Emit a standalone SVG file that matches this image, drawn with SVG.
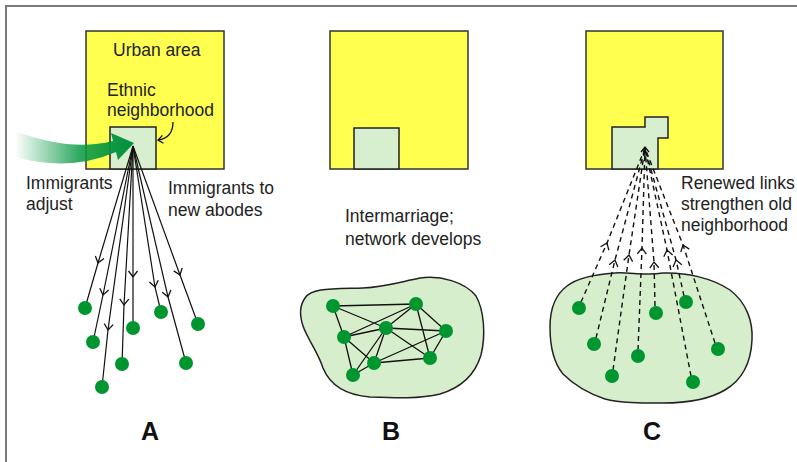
<svg xmlns="http://www.w3.org/2000/svg" width="797" height="462" viewBox="0 0 797 462">
<style>
  .frame{fill:none;stroke:#7a7a7a;stroke-width:2}
  .urban{fill:#ffff50;stroke:#333;stroke-width:1.5}
  .hood{fill:#d7eecf;stroke:#222;stroke-width:1.5}
  .blob{fill:#d6eecb;stroke:#222;stroke-width:1.5}
  .dot{fill:#00962f}
  .lbl{font-family:"Liberation Sans",Arial,sans-serif;font-size:17.5px;fill:#222}
  .big{font-family:"Liberation Sans",Arial,sans-serif;font-size:25px;font-weight:bold;fill:#111;text-anchor:middle}
  .fan{fill:none;stroke:#111;stroke-width:1.2;marker-mid:url(#chev)}
  .net{fill:none;stroke:#111;stroke-width:1.3}
  .dash{fill:none;stroke:#111;stroke-width:1.4;stroke-dasharray:5 4;marker-mid:url(#chev)}
</style>
<defs>
  <linearGradient id="gArrow" x1="15" y1="0" x2="132" y2="0" gradientUnits="userSpaceOnUse">
    <stop offset="0" stop-color="#0a9a45" stop-opacity="0"/>
    <stop offset="0.55" stop-color="#0a9a45" stop-opacity="0.85"/>
    <stop offset="1" stop-color="#009038"/>
  </linearGradient>
  <marker id="chev" markerUnits="userSpaceOnUse" markerWidth="12" markerHeight="12" refX="0" refY="0" orient="auto" overflow="visible">
    <path d="M -6 -4.5 L 0 0 L -6 4.5" fill="none" stroke="#111" stroke-width="1.3"/>
  </marker>
  <marker id="tip" markerUnits="userSpaceOnUse" markerWidth="10" markerHeight="10" refX="0" refY="0" orient="auto" overflow="visible">
    <path d="M -5 -4 L 0 0 L -5 4" fill="none" stroke="#111" stroke-width="1.3"/>
  </marker>
</defs>

<path class="frame" d="M 6 462 V 6 H 797"/>

<!-- Panel A -->
<g id="urbanA">
  <rect class="urban" x="86" y="31" width="138" height="138"/>
  <text class="lbl" x="113" y="56">Urban area</text>
</g>
<g id="hoodA">
  <rect class="hood" x="110" y="127" width="46" height="42"/>
  <text class="lbl" x="107" y="96">Ethnic</text>
  <text class="lbl" x="107" y="116">neighborhood</text>
  <path d="M 173 122 Q 173 138 158 140" fill="none" stroke="#111" stroke-width="1.3" marker-end="url(#tip)"/>
</g>
<g id="immigrantArrow">
  <path d="M 15 131 Q 70 152 113 141 L 111 133 L 134 143 L 118 160 L 116 152 Q 70 172 15 157 Z" fill="url(#gArrow)"/>
</g>
<g id="labelsA">
  <text class="lbl" x="26" y="189">Immigrants</text>
  <text class="lbl" x="26" y="210">adjust</text>
  <text class="lbl" x="168" y="194">Immigrants to</text>
  <text class="lbl" x="168" y="216">new abodes</text>
</g>
<g id="connectorsA">
  <path class="fan" d="M 133 146 L 98 263 L 85 308"/>
  <path class="fan" d="M 133 146 L 103 295 L 93 342"/>
  <path class="fan" d="M 133 146 L 108 330 L 102 387"/>
  <path class="fan" d="M 133 146 L 124 305 L 122 364"/>
  <path class="fan" d="M 133 146 L 133 277 L 133 328"/>
  <path class="fan" d="M 133 146 L 155 287 L 161 312"/>
  <path class="fan" d="M 133 146 L 168 297 L 186 363"/>
  <path class="fan" d="M 133 146 L 180 275 L 198 324"/>
</g>
<g id="dotsA">
  <circle class="dot" cx="85" cy="308" r="7"/>
  <circle class="dot" cx="93" cy="342" r="7"/>
  <circle class="dot" cx="102" cy="387" r="7"/>
  <circle class="dot" cx="122" cy="364" r="7"/>
  <circle class="dot" cx="133" cy="328" r="7"/>
  <circle class="dot" cx="161" cy="312" r="7"/>
  <circle class="dot" cx="186" cy="363" r="7"/>
  <circle class="dot" cx="198" cy="324" r="7"/>
</g>
<text class="big" x="150" y="440">A</text>

<!-- Panel B -->
<g id="urbanB">
  <rect class="urban" x="330" y="31" width="138" height="138"/>
  <rect class="hood" x="354" y="128" width="45" height="41"/>
</g>
<g id="labelB">
  <text class="lbl" x="345" y="222">Intermarriage;</text>
  <text class="lbl" x="345" y="245">network develops</text>
</g>
<g id="regionB">
  <path class="blob" d="M 305 298 C 312 288 330 289 363 288 C 385 287 400 282 420 278 C 440 275 465 282 476 296 C 484 310 486 335 481 355 C 475 375 460 388 440 394 C 420 399 395 398 370 397 C 345 395 330 385 323 368 C 318 352 308 340 303 326 C 299 314 300 305 305 298 Z"/>
</g>
<g id="connectorsB">
  <path class="net" d="M333 306 L416 304 M333 306 L344 337 M333 306 L386 328 M416 304 L344 337 M416 304 L386 328 M416 304 L430 358 M416 304 L446 331 M386 328 L344 337 M386 328 L446 331 M386 328 L430 358 M386 328 L374 363 M386 328 L353 375 M344 337 L374 363 M344 337 L353 375 M446 331 L374 363 M446 331 L430 358 M374 363 L430 358 M374 363 L353 375"/>
</g>
<g id="dotsB">
  <circle class="dot" cx="333" cy="306" r="7"/>
  <circle class="dot" cx="416" cy="304" r="7"/>
  <circle class="dot" cx="386" cy="328" r="7"/>
  <circle class="dot" cx="344" cy="337" r="7"/>
  <circle class="dot" cx="446" cy="331" r="7"/>
  <circle class="dot" cx="374" cy="363" r="7"/>
  <circle class="dot" cx="430" cy="358" r="7"/>
  <circle class="dot" cx="353" cy="375" r="7"/>
</g>
<text class="big" x="391" y="440">B</text>

<!-- Panel C -->
<g id="urbanC">
  <rect class="urban" x="586" y="31" width="137" height="138"/>
  <path class="hood" d="M 612 127 H 645 V 117 H 668 V 138 H 658 V 169 H 612 Z"/>
</g>
<g id="labelC">
  <text class="lbl" x="681" y="189">Renewed links</text>
  <text class="lbl" x="681" y="210">strengthen old</text>
  <text class="lbl" x="681" y="231">neighborhood</text>
</g>
<g id="regionC">
  <path class="blob" d="M 567 286 C 580 276 600 274 615 273 C 630 272 645 276 663 273 C 685 272 712 278 730 290 C 747 303 753 322 752 340 C 751 362 742 380 725 390 C 708 400 685 403 663 403 C 640 403 620 403 605 399 C 590 394 575 386 563 374 C 553 362 550 345 550 327 C 550 308 555 295 567 286 Z"/>
</g>
<g id="connectorsC">
  <path class="dash" d="M 581 302 L 607 243 L 645 148"/>
  <path class="dash" d="M 596 338 L 615 260 L 645 148"/>
  <path class="dash" d="M 613 370 L 629 255 L 645 148"/>
  <path class="dash" d="M 638 350 L 642 248 L 645 148"/>
  <path class="dash" d="M 655 306 L 654 262 L 645 148"/>
  <path class="dash" d="M 684 296 L 676 260 L 645 148"/>
  <path class="dash" d="M 691 376 L 667 250 L 645 148"/>
  <path class="dash" d="M 715 343 L 683 245 L 645 148"/>
  <path d="M 645 160 L 645 147" fill="none" stroke="#111" stroke-width="1.3" marker-end="url(#tip)"/>
</g>
<g id="dotsC">
  <circle class="dot" cx="579" cy="308" r="7"/>
  <circle class="dot" cx="594" cy="344" r="7"/>
  <circle class="dot" cx="612" cy="376" r="7"/>
  <circle class="dot" cx="638" cy="356" r="7"/>
  <circle class="dot" cx="656" cy="313" r="7"/>
  <circle class="dot" cx="686" cy="302" r="7"/>
  <circle class="dot" cx="718" cy="349" r="7"/>
  <circle class="dot" cx="693" cy="382" r="7"/>
</g>
<text class="big" x="652" y="440">C</text>
</svg>
